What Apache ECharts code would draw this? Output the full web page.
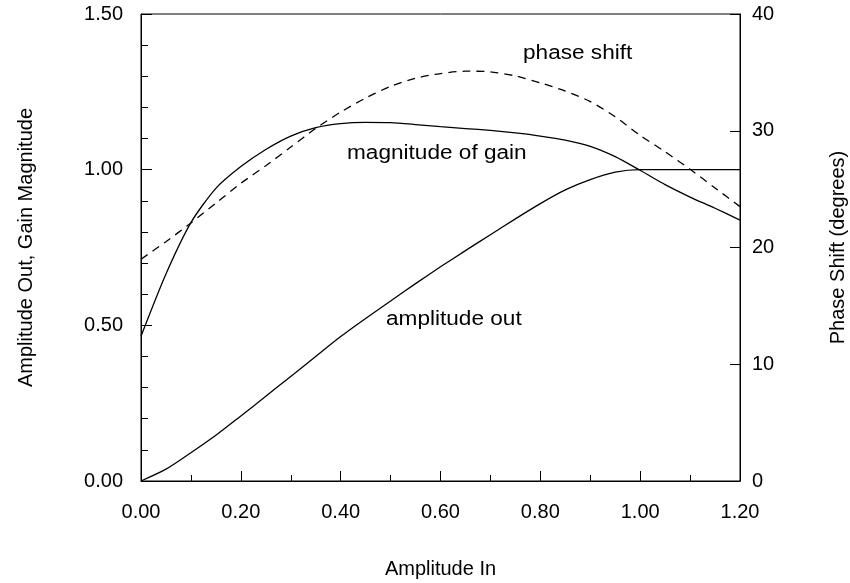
<!DOCTYPE html>
<html>
<head>
<meta charset="utf-8">
<script src="https://cdn.jsdelivr.net/npm/echarts@6/dist/echarts.min.js"></script>
<style>
  html, body { margin: 0; padding: 0; background: #fff; }
  #chart { width: 850px; height: 583px; }
</style>
</head>
<body>
<div id="chart"></div>
<script>
// Input amplitude samples and the three response curves
const amplitudeIn = [0, 0.05, 0.1, 0.15, 0.2, 0.25, 0.3, 0.35, 0.4, 0.45, 0.5, 0.55, 0.6, 0.65, 0.7, 0.75, 0.8, 0.85, 0.9, 0.95, 1.0, 1.05, 1.1, 1.15, 1.2];

const amplitudeOut = [0, 0.038, 0.091, 0.147, 0.209, 0.272, 0.336, 0.4, 0.464, 0.522, 0.578, 0.634, 0.688, 0.74, 0.791, 0.842, 0.891, 0.935, 0.968, 0.992, 1.0, 1.0, 1.0, 1.0, 1.0];

const gainMagnitude = [0.465, 0.665, 0.83, 0.94, 1.01, 1.065, 1.108, 1.135, 1.148, 1.152, 1.151, 1.145, 1.138, 1.132, 1.126, 1.118, 1.108, 1.095, 1.075, 1.042, 0.998, 0.952, 0.912, 0.876, 0.838];

const phaseShift = [19.0, 20.5, 22.1, 23.8, 25.5, 27.0, 28.6, 30.2, 31.6, 32.8, 33.8, 34.5, 34.9, 35.1, 35.05, 34.7, 34.1, 33.4, 32.5, 31.2, 29.6, 28.2, 26.7, 25.1, 23.5];

const xTicks = { min: 0, max: 1.2, step: 0.2 };
const leftTicks = { min: 0, max: 1.5, step: 0.5 };
const rightTicks = { min: 0, max: 40, step: 10 };

const pairs = (ys) => amplitudeIn.map((x, i) => [x, ys[i]]);

const FONT = 'Liberation Sans';
const labelStyle = { color: '#000', fontFamily: FONT, fontSize: 20 };
const noteFont = '20px "Liberation Sans"';

const chart = echarts.init(document.getElementById('chart'), null, { renderer: 'canvas' });

chart.setOption({
  backgroundColor: '#fff',
  animation: false,
  grid: {
    left: 141, right: 110, top: 14, bottom: 102,
    containLabel: false, outerBoundsMode: 'none',
    show: true, borderColor: '#000', borderWidth: 1, backgroundColor: 'transparent'
  },
  xAxis: {
    type: 'value',
    min: xTicks.min, max: xTicks.max, interval: xTicks.step,
    name: 'Amplitude In', nameLocation: 'middle', nameGap: 78,
    nameTextStyle: labelStyle,
    axisLine: { lineStyle: { color: '#000', width: 1 } },
    axisTick: { inside: true, length: 10, lineStyle: { color: '#000' } },
    minorTick: { show: true, splitNumber: 2, length: 6, lineStyle: { color: '#000' } },
    axisLabel: Object.assign({ margin: 21, formatter: v => v.toFixed(2) }, labelStyle),
    splitLine: { show: false }
  },
  yAxis: [
    {
      type: 'value', position: 'left',
      min: leftTicks.min, max: leftTicks.max, interval: leftTicks.step,
      name: 'Amplitude Out, Gain Magnitude', nameLocation: 'middle', nameGap: 105,
      nameRotate: 90,
      nameTextStyle: labelStyle,
      axisLine: { show: true, lineStyle: { color: '#000', width: 1 } },
      axisTick: { show: true, inside: true, length: 11, lineStyle: { color: '#000' } },
      minorTick: { show: true, splitNumber: 5, length: 7, lineStyle: { color: '#000' } },
      axisLabel: Object.assign({ margin: 18, formatter: v => v.toFixed(2) }, labelStyle),
      splitLine: { show: false }
    },
    {
      type: 'value', position: 'right',
      min: rightTicks.min, max: rightTicks.max, interval: rightTicks.step,
      name: 'Phase Shift (degrees)', nameLocation: 'middle', nameGap: 88,
      nameRotate: 90,
      nameTextStyle: labelStyle,
      axisLine: { show: true, lineStyle: { color: '#000', width: 1 } },
      axisTick: { show: true, inside: true, length: 10, lineStyle: { color: '#000' } },
      axisLabel: Object.assign({ margin: 12 }, labelStyle),
      splitLine: { show: false }
    }
  ],
  series: [
    {
      name: 'amplitude out', type: 'line', yAxisIndex: 0,
      data: pairs(amplitudeOut), smooth: 0.25,
      showSymbol: false, lineStyle: { color: '#000', width: 1.3 }
    },
    {
      name: 'magnitude of gain', type: 'line', yAxisIndex: 0,
      data: pairs(gainMagnitude), smooth: 0.25,
      showSymbol: false, lineStyle: { color: '#000', width: 1.3 }
    },
    {
      name: 'phase shift', type: 'line', yAxisIndex: 1,
      data: pairs(phaseShift), smooth: 0.25,
      showSymbol: false, lineStyle: { color: '#000', width: 1.3, type: [8, 6] }
    }
  ],
  graphic: [
    { type: 'text', x: 523, y: 43, scaleX: 1.13, style: { text: 'phase shift', fill: '#000', font: noteFont } },
    { type: 'text', x: 347, y: 143, scaleX: 1.13, style: { text: 'magnitude of gain', fill: '#000', font: noteFont } },
    { type: 'text', x: 386, y: 309, scaleX: 1.13, style: { text: 'amplitude out', fill: '#000', font: noteFont } }
  ]
});
</script>
</body>
</html>
